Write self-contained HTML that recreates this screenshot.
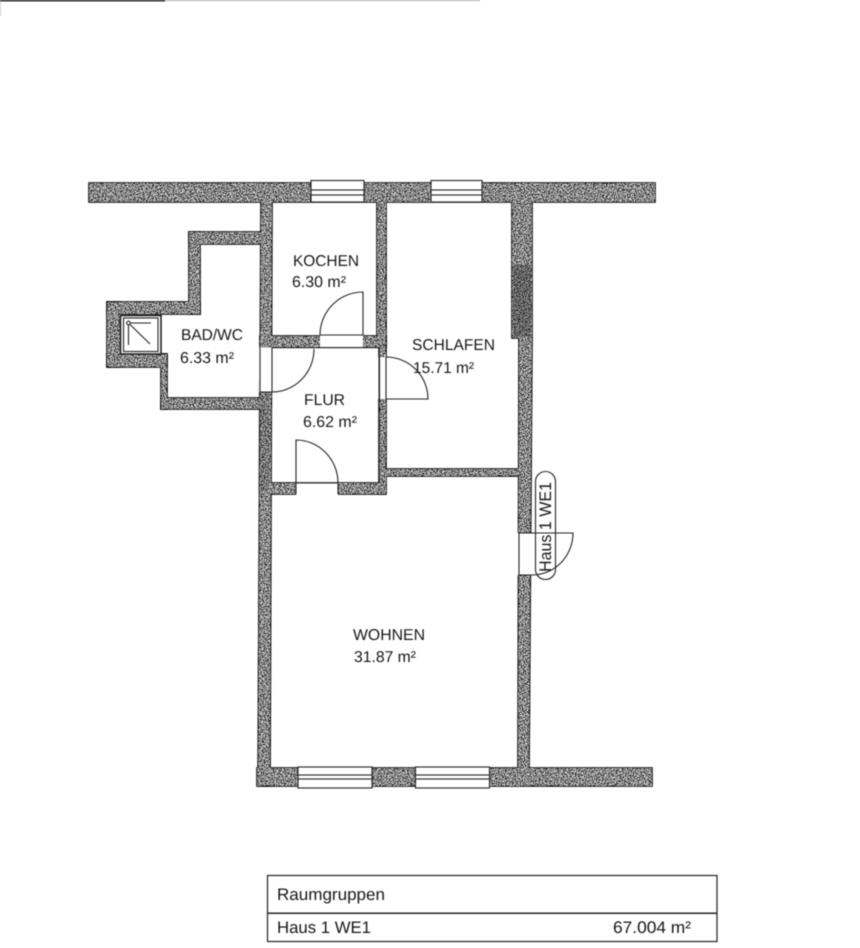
<!DOCTYPE html>
<html><head><meta charset="utf-8"><style>
html,body{margin:0;padding:0;background:#fff;width:860px;height:948px;overflow:hidden}
svg{display:block;filter:blur(0.45px)}
text{font-family:"Liberation Sans",sans-serif;font-size:15.7px;fill:#161616;text-rendering:geometricPrecision}
text.t{font-size:16.8px}
</style></head><body>
<svg width="860" height="948" viewBox="0 0 860 948" xmlns="http://www.w3.org/2000/svg">
<defs>
<filter id="noise" x="0" y="0" width="860" height="948" filterUnits="userSpaceOnUse" primitiveUnits="userSpaceOnUse">
<feTurbulence type="fractalNoise" baseFrequency="0.9" numOctaves="2" seed="4" result="t"/>
<feColorMatrix in="t" type="matrix" values="3.2 0 0 0 -1.28  3.2 0 0 0 -1.28  3.2 0 0 0 -1.28  0 0 0 0 1" result="g"/>
<feComposite in="g" in2="SourceAlpha" operator="in"/>
</filter>
<g id="walls">
<rect x="89" y="183" width="566" height="19"/>
<polygon points="261,202 272,202 270,786 258,786"/>
<rect x="257" y="768" width="395" height="18"/>
<rect x="377" y="202" width="9" height="140"/>
<rect x="379" y="336" width="7" height="158"/>
<rect x="260" y="336" width="126" height="11"/>
<rect x="270" y="483" width="115" height="11"/>
<rect x="386" y="469" width="133" height="7"/>
<polygon points="512,202 532,202 532,338 512,338"/>
<polygon points="519,338 532,338 529,768 518,768"/>
<rect x="189" y="232" width="72" height="12"/>
<rect x="189" y="232" width="11" height="82"/>
<rect x="107" y="302" width="93" height="12"/>
<rect x="107" y="302" width="13" height="65"/>
<rect x="107" y="354" width="60" height="13"/>
<rect x="161" y="354" width="6" height="55"/>
<rect x="161" y="398" width="100" height="11"/>
</g>
</defs>

<!-- scan edge -->
<rect x="0" y="0" width="165" height="1.4" fill="#111"/>
<rect x="165" y="0" width="315" height="1" fill="#aaa"/>
<rect x="0" y="2" width="1" height="14" fill="#ccc"/>

<!-- walls -->
<use href="#walls" fill="#000" stroke="#000" stroke-width="1.6"/>
<use href="#walls" fill="#000" filter="url(#noise)"/>
<rect x="513" y="265" width="18" height="72" fill="#111" opacity=".3"/>
<rect x="258" y="380" width="11" height="110" fill="#000" opacity=".12"/>

<g fill="#fff" stroke="none">
<!-- openings -->
<rect x="320" y="335" width="43" height="12.5"/>
<rect x="259" y="347.500" width="13" height="44.500"/>
<rect x="378" y="357" width="9" height="42"/>
<rect x="296" y="483" width="42" height="13"/>
<rect x="517" y="533" width="16" height="42"/>
</g>

<g fill="none" stroke="#222" stroke-width="1.1">
<!-- Kitchen door -->
<path d="M320,335H363M320,347.500H380M363,335V292A43,43 0 0 0 320,335"/>
<!-- Bath door -->
<path d="M260,347.500V392H272M272,347.500V392M314,349A42,43 0 0 1 272,392" />
<!-- Schlafen door -->
<path d="M386,357V399H428A42,42 0 0 0 386,357M379.500,357V399"/>
<!-- Flur entrance -->
<path d="M296,483H338A42,43 0 0 0 296,440V494M338,483V494"/>
<!-- entry door -->
<path d="M532,533H519V575H532M532,533H573A41,42 0 0 1 532,575"/>
</g>
<rect x="272" y="347" width="107" height="1.200" fill="#222"/>
<rect x="378.500" y="347" width="1.200" height="136" fill="#222"/>

<!-- Windows -->
<g fill="#fff" stroke="#222" stroke-width="1.1">
<rect x="311" y="180.500" width="53" height="21.500"/>
<rect x="311" y="190" width="53" height="5"/>
<rect x="431" y="180.500" width="51" height="21.500"/>
<rect x="431" y="190" width="51" height="5"/>
<rect x="298" y="767" width="74" height="21"/>
<rect x="298" y="775" width="74" height="4"/>
<rect x="415.500" y="767" width="74" height="21"/>
<rect x="415.500" y="775" width="74" height="4"/>
</g>

<!-- Shower -->
<rect x="120.500" y="315.500" width="40.500" height="38.500" fill="#fff" stroke="#222" stroke-width="1.600"/>
<rect x="123.500" y="318" width="34.500" height="33.500" fill="#fff" stroke="#222" stroke-width="1.100"/>
<g fill="none" stroke="#222" stroke-width="1.100">
<circle cx="128.500" cy="323" r="1.800"/>
<path d="M130,323H151M128.500,325V345M130,324.500L150,344"/>
</g>

<!-- Labels -->
<text x="293" y="266" textLength="66" lengthAdjust="spacingAndGlyphs">KOCHEN</text>
<text x="292" y="287" textLength="54" lengthAdjust="spacingAndGlyphs">6.30 m²</text>
<text x="181" y="340" textLength="62" lengthAdjust="spacingAndGlyphs">BAD/WC</text>
<text x="180" y="363" textLength="54" lengthAdjust="spacingAndGlyphs">6.33 m²</text>
<text x="304" y="405" textLength="41" lengthAdjust="spacingAndGlyphs">FLUR</text>
<text x="303" y="427" textLength="54" lengthAdjust="spacingAndGlyphs">6.62 m²</text>
<text x="412" y="350" textLength="83" lengthAdjust="spacingAndGlyphs">SCHLAFEN</text>
<text x="413" y="373" textLength="61" lengthAdjust="spacingAndGlyphs">15.71 m²</text>
<text x="353" y="640" textLength="72" lengthAdjust="spacingAndGlyphs">WOHNEN</text>
<text x="354" y="662" textLength="62" lengthAdjust="spacingAndGlyphs">31.87 m²</text>

<!-- Entry tag -->
<rect x="535.500" y="471.500" width="20" height="108" rx="10" ry="10" fill="none" stroke="#222" stroke-width="1.100"/>
<text class="t" transform="translate(551,572) rotate(-90)" textLength="90" lengthAdjust="spacingAndGlyphs">Haus 1 WE1</text>

<!-- Table -->
<rect x="267.500" y="875.500" width="449.500" height="66" fill="#fff" stroke="#222" stroke-width="1.200"/>
<rect x="267" y="912.500" width="450" height="1.500" fill="#222"/>
<text class="t" x="277" y="900" textLength="108" lengthAdjust="spacingAndGlyphs">Raumgruppen</text>
<text class="t" x="277" y="933" textLength="94" lengthAdjust="spacingAndGlyphs">Haus 1 WE1</text>
<text class="t" x="613" y="933" textLength="78" lengthAdjust="spacingAndGlyphs">67.004 m²</text>
</svg>
</body></html>
